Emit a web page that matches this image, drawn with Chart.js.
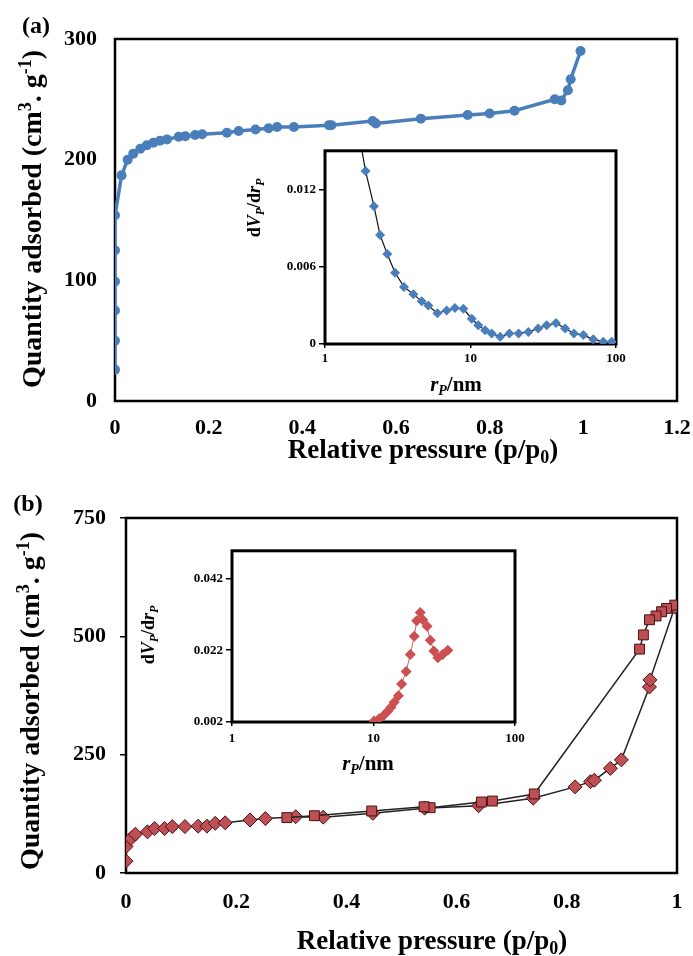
<!DOCTYPE html>
<html>
<head>
<meta charset="utf-8">
<script src="https://cdn.jsdelivr.net/npm/chart.js@4.4.0/dist/chart.umd.min.js"></script>
<style>
  body { margin: 0; background: #fff; overflow: hidden; }
  #wrap { position: relative; width: 693px; height: 956px; }
  canvas { position: absolute; }
</style>
</head>
<body>
<div id="wrap">
  <canvas id="mainA" width="693" height="480" style="left:0;top:0"></canvas>
  <canvas id="insetA" width="390" height="260" style="left:240px;top:140px"></canvas>
  <canvas id="mainB" width="693" height="496" style="left:0;top:460px"></canvas>
  <canvas id="insetB" width="400" height="240" style="left:130px;top:540px"></canvas>
</div>
<script>
var SERIF = "'Liberation Serif', 'Times New Roman', serif";
var BLUE = "#4a7ebb";
var RED = "#bd4f55";

// (a) isotherm
var isoA_p = [0, 0, 0, 0, 0, 0, 0.014, 0.027, 0.039, 0.054, 0.068, 0.082, 0.096, 0.111, 0.136, 0.15,
  0.171, 0.186, 0.239, 0.264, 0.3, 0.328, 0.346, 0.382, 0.457, 0.462, 0.55, 0.557, 0.653, 0.753,
  0.8, 0.853, 0.939, 0.953, 0.967, 0.973, 0.994];
var isoA_q = [26, 50, 75, 99, 125, 154, 187, 200, 205, 209, 212, 214, 215.7, 216.8, 219, 219.5,
  220.4, 221, 222.3, 223.7, 225, 226, 227, 227, 228.6, 228.6, 232, 230, 234, 237,
  238.3, 240.5, 250, 249, 257.6, 266.7, 290];
// (a) inset: pore size distribution
var psdA_r = [1.70, 1.9, 2.17, 2.39, 2.68, 3.03, 3.49, 4.05, 4.62, 5.13, 5.92, 6.86, 7.82, 8.93,
  10.2, 11.3, 12.6, 14.0, 16.0, 18.5, 21.4, 25.0, 29.2, 33.4, 38.7, 44.7, 51.4, 59.6, 69.8, 81.8, 93.4];
var psdA_v = [0.0165, 0.01343, 0.0107, 0.00846, 0.00698, 0.00553, 0.00443, 0.00387, 0.00331, 0.00298,
  0.00239, 0.0026, 0.0028, 0.00273, 0.00196, 0.00145, 0.00107, 0.00082, 0.00056, 0.00082, 0.00082,
  0.00094, 0.0012, 0.00145, 0.00163, 0.0012, 0.00082, 0.00069, 0.00036, 0.00018, 0.00018];

// (b) isotherm: adsorption (diamonds) and desorption (squares)
var adsB_p = [0, 0, 0.009, 0.017, 0.039, 0.052, 0.07, 0.084, 0.107, 0.131, 0.147, 0.162, 0.18, 0.225,
  0.253, 0.308, 0.358, 0.448, 0.542, 0.64, 0.739, 0.815, 0.843, 0.85, 0.879, 0.899, 0.95, 0.951, 0.996];
var adsB_q = [25, 56, 73, 82, 87, 94, 94, 98, 98, 99, 99, 105, 106, 112,
  115, 119, 118, 126, 137, 142, 158, 182, 193, 196, 221, 239, 393, 408, 562];
var desB_p = [0.996, 0.981, 0.972, 0.962, 0.95, 0.939, 0.932, 0.741, 0.665, 0.645, 0.552, 0.541, 0.446, 0.342, 0.292];
var desB_q = [566, 559, 552, 543, 535, 503, 473, 167, 152, 150, 138, 140, 131, 121, 117];
// (b) inset
var psdB_r = [10.1, 10.96, 11.8, 12.6, 13.3, 14.0, 15.0, 15.8, 17.0, 18.2, 19.4, 20.2, 21.4, 22.3,
  23.9, 25.2, 26.7, 28.5, 30.8, 33.5];
var psdB_v = [0.0023, 0.0029, 0.0038, 0.005, 0.0061, 0.0075, 0.0093, 0.0126, 0.0161, 0.0208, 0.0259,
  0.0302, 0.0325, 0.0305, 0.0287, 0.0248, 0.0218, 0.0199, 0.0208, 0.022];

// tick values
var ticksA_x = [0, 0.2, 0.4, 0.6, 0.8, 1, 1.2];
var ticksA_y = [0, 100, 200, 300];
var ticksB_x = [0, 0.2, 0.4, 0.6, 0.8, 1];
var ticksB_y = [0, 250, 500, 750];
var ticksInset_x = [1, 10, 100];
var ticksInsetA_y = [0, 0.006, 0.012];
var ticksInsetB_y = [0.002, 0.022, 0.042];

function pts(xs, ys) {
  return xs.map(function (x, i) { return { x: x, y: ys[i] }; });
}
function fixTicks(values) {
  return function (axis) { axis.ticks = values.map(function (v) { return { value: v }; }); };
}

// text with sub/superscripts
function T(t) { return { t: t }; }
function I(t) { return { t: t, it: true }; }
function SUP(t) { return { t: t, sup: true }; }
function SUB(t) { return { t: t, sub: true, it: true }; }
function SUBN(t) { return { t: t, sub: true }; }

function drawRich(ctx, item) {
  var size = item.size;
  var segs = item.parts.map(function (p) {
    var fs = (p.sup || p.sub) ? Math.round(size * 0.65) : size;
    var font = (p.it ? "italic " : "") + "bold " + fs + "px " + SERIF;
    ctx.font = font;
    return { t: p.t, font: font, w: ctx.measureText(p.t).width,
      dy: p.sup ? -size * 0.36 : (p.sub ? size * 0.2 : 0) };
  });
  var total = segs.reduce(function (a, s) { return a + s.w; }, 0);
  ctx.save();
  ctx.translate(item.x, item.y);
  if (item.rot) ctx.rotate(item.rot);
  ctx.fillStyle = "#000";
  ctx.textAlign = "left";
  ctx.textBaseline = "alphabetic";
  var x = -total / 2;
  segs.forEach(function (s) {
    ctx.font = s.font;
    ctx.fillText(s.t, x, size * 0.33 + s.dy);
    x += s.w;
  });
  ctx.restore();
}

var richText = {
  id: "richText",
  afterDraw: function (chart, args, opts) {
    (opts.items || []).forEach(function (it) { drawRich(chart.ctx, it); });
  }
};
var frame = {
  id: "frame",
  beforeDraw: function (chart, args, o) {
    if (!o.fill) return;
    var a = chart.chartArea, c = chart.ctx;
    c.save();
    c.fillStyle = o.fill;
    c.fillRect(a.left, a.top, a.right - a.left, a.bottom - a.top);
    c.restore();
  },
  beforeDatasetsDraw: function (chart, args, o) {
    var a = chart.chartArea, c = chart.ctx;
    c.save();
    c.strokeStyle = "#000";
    c.lineWidth = o.width || 2.5;
    c.strokeRect(a.left, a.top, a.right - a.left, a.bottom - a.top);
    c.restore();
  }
};
Chart.register(frame, richText);

var yTitle = [T("Quantity adsorbed (cm"), SUP("3"), T(". g"), SUP("-1"), T(")")];
var xTitle = [T("Relative pressure (p/p"), SUBN("0"), T(")")];
var dvTitle = [T("d"), I("V"), SUB("P"), T("/d"), I("r"), SUB("P")];
var rTitle = [I("r"), SUB("P"), T("/nm")];

// gap: invisible tick length used as spacing between axis and labels
function axis(opts) {
  var len = opts.tickLen || opts.gap || 0;
  var o = {
    type: opts.type || "linear",
    min: opts.min, max: opts.max,
    afterBuildTicks: fixTicks(opts.ticks),
    grid: { display: len > 0, drawOnChartArea: false, drawTicks: len > 0, tickLength: len,
      color: opts.tickLen ? "#000" : "rgba(0,0,0,0)", lineWidth: 1.5 },
    border: { display: false },
    ticks: { padding: opts.pad, color: "#000", autoSkip: false, maxRotation: 0,
      font: { family: SERIF, size: opts.font, weight: "bold" },
      callback: function (v) { return String(v); } }
  };
  if (opts.width) o.afterFit = function (s) { s.width = opts.width; };
  if (opts.height) o.afterFit = function (s) { s.height = opts.height; };
  return o;
}

function baseOptions(pad, scales, plugins) {
  return {
    responsive: false, animation: false, events: [],
    layout: { padding: pad },
    plugins: Object.assign({ legend: { display: false }, tooltip: { enabled: false } }, plugins),
    scales: scales
  };
}

// ---- panel (a) ----
new Chart(document.getElementById("mainA"), {
  type: "scatter",
  data: { datasets: [{
    data: pts(isoA_p, isoA_q), showLine: true,
    borderColor: BLUE, backgroundColor: BLUE, borderWidth: 3.5,
    pointRadius: 5, pointBorderWidth: 0
  }] },
  options: baseOptions({ top: 39, right: 16, left: 0, bottom: 0 }, {
    x: axis({ min: 0, max: 1.2, ticks: ticksA_x, gap: 12, pad: 2, font: 22, height: 79 }),
    y: axis({ min: 0, max: 300, ticks: ticksA_y, gap: 16, pad: 2, font: 22, width: 115 })
  }, {
    frame: { width: 2.5 },
    richText: { items: [
      { parts: [T("(a)")], x: 36, y: 25, size: 24 },
      { parts: yTitle, x: 32, y: 219, size: 28, rot: -Math.PI / 2 },
      { parts: xTitle, x: 423, y: 449, size: 27 }
    ] }
  })
});

new Chart(document.getElementById("insetA"), {
  type: "scatter",
  data: { datasets: [{
    data: pts(psdA_r, psdA_v), showLine: true, clip: 0,
    borderColor: "#111", borderWidth: 1.2, backgroundColor: BLUE,
    pointStyle: "rectRot", pointRadius: 5, pointBorderWidth: 0
  }] },
  options: baseOptions({ top: 8, right: 14, left: 0, bottom: 0 }, {
    x: axis({ type: "logarithmic", min: 1, max: 100, ticks: ticksInset_x, pad: 3, font: 13, tickLen: 4, height: 56 }),
    y: axis({ min: 0, max: 0.015, ticks: ticksInsetA_y, pad: 3, font: 13, tickLen: 6, width: 85 })
  }, {
    frame: { width: 3, fill: "#fff" },
    richText: { items: [
      { parts: dvTitle, x: 14, y: 68, size: 18, rot: -Math.PI / 2 },
      { parts: rTitle, x: 216, y: 244, size: 21 }
    ] }
  })
});

// ---- panel (b) ----
new Chart(document.getElementById("mainB"), {
  type: "scatter",
  data: { datasets: [{
    data: pts(desB_p, desB_q), showLine: true,
    borderColor: "#222", borderWidth: 1.5, backgroundColor: RED,
    pointStyle: "rect", pointRadius: 7, pointBorderColor: "#4a1212", pointBorderWidth: 1
  }, {
    data: pts(adsB_p, adsB_q), showLine: true,
    borderColor: "#222", borderWidth: 1.5, backgroundColor: RED,
    pointStyle: "rectRot", pointRadius: 7, pointBorderColor: "#4a1212", pointBorderWidth: 1
  }] },
  options: baseOptions({ top: 58, right: 16, left: 0, bottom: 0 }, {
    x: axis({ min: 0, max: 1, ticks: ticksB_x, gap: 14, pad: 2, font: 22, height: 83 }),
    y: axis({ min: 0, max: 750, ticks: ticksB_y, pad: 14, font: 22, tickLen: 6, width: 126 })
  }, {
    frame: { width: 2.5 },
    richText: { items: [
      { parts: [T("(b)")], x: 28, y: 43, size: 24 },
      { parts: yTitle, x: 30, y: 241, size: 28, rot: -Math.PI / 2 },
      { parts: xTitle, x: 432, y: 480, size: 27 }
    ] }
  })
});

new Chart(document.getElementById("insetB"), {
  type: "scatter",
  data: { datasets: [{
    data: pts(psdB_r, psdB_v), showLine: true,
    borderColor: "#d0605e", borderWidth: 1, backgroundColor: "#cc4f52",
    pointStyle: "rectRot", pointRadius: 5.5, pointBorderWidth: 0
  }] },
  options: baseOptions({ top: 7, right: 15, left: 0, bottom: 0 }, {
    x: axis({ type: "logarithmic", min: 1, max: 100, ticks: ticksInset_x, pad: 5, font: 13, tickLen: 4, height: 58 }),
    y: axis({ min: 0.002, max: 0.0497, ticks: ticksInsetB_y, pad: 3, font: 13, tickLen: 6, width: 102 })
  }, {
    frame: { width: 3, fill: "#fff" },
    richText: { items: [
      { parts: dvTitle, x: 18, y: 95, size: 18, rot: -Math.PI / 2 },
      { parts: rTitle, x: 238, y: 223, size: 21 }
    ] }
  })
});
</script>
</body>
</html>
